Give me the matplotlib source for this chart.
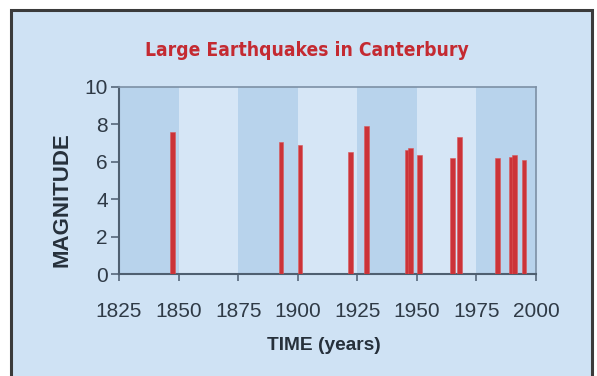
import matplotlib
matplotlib.use("Agg")
import matplotlib.pyplot as plt
from matplotlib.patches import Rectangle

# earthquake years and magnitudes
years = [1847.5, 1893, 1901, 1922, 1929, 1946, 1947.2, 1951, 1965, 1968,
         1984, 1989.5, 1991, 1995]
magnitudes = [7.6, 7.05, 6.9, 6.5, 7.9, 6.65, 6.75, 6.35, 6.2, 7.3,
              6.2, 6.25, 6.35, 6.1]

x_ticks = [1825, 1850, 1875, 1900, 1925, 1950, 1975, 2000]
y_ticks = [0, 2, 4, 6, 8, 10]
dark_bands = [(1825, 1850), (1875, 1900), (1925, 1950), (1975, 2000)]

W, H = 597, 376
fig = plt.figure(figsize=(W / 100, H / 100), dpi=100, facecolor="white")

# outer panel with dark border
frame = Rectangle((11 / W, -0.05), (592 - 11) / W, 1 - 10 / H + 0.05,
                  transform=fig.transFigure, facecolor="#cfe2f4",
                  edgecolor="#3b3b3b", linewidth=2.2, zorder=-5)
fig.patches.append(frame)

ax = fig.add_axes([119 / W, 1 - 274 / H, (536 - 119) / W, (274 - 87) / H])
ax.set_zorder(2)
ax.set_facecolor("#d6e6f6")
for a, b in dark_bands:
    ax.axvspan(a, b, color="#b8d3ec", lw=0, zorder=0)

ax.bar(years, magnitudes, width=2.0, color="#cc3338", edgecolor="#d9575a",
       linewidth=0.4, zorder=3)

ax.set_xlim(1825, 2000)
ax.set_ylim(0, 10)
ax.set_xticks(x_ticks)
ax.set_yticks(y_ticks)

font = ["Liberation Sans", "DejaVu Sans"]
ax.tick_params(axis="x", direction="out", length=5, width=1.2,
               color="#56677a", pad=15.5, labelsize=15, labelcolor="#2f3a46")
ax.tick_params(axis="y", direction="out", length=6, width=1.2,
               color="#56677a", pad=2, labelsize=15, labelcolor="#2f3a46")
for lbl in ax.get_xticklabels() + ax.get_yticklabels():
    lbl.set_family(font)

for side in ["left", "bottom"]:
    ax.spines[side].set_color("#4f5f70")
    ax.spines[side].set_linewidth(1.5)
for side in ["top", "right"]:
    ax.spines[side].set_color("#7d90a5")
    ax.spines[side].set_linewidth(1.2)

fig.text(307 / W, 1 - 50 / H, "Large Earthquakes in Canterbury",
         ha="center", va="center", fontsize=13.8, fontweight="bold",
         fontstretch="condensed", color="#c42a31", family="DejaVu Sans")
fig.text(62 / W, 1 - 200 / H, "MAGNITUDE", rotation=90, ha="center",
         va="center", fontsize=16, fontweight="bold", color="#26303b",
         family=font)
fig.text(324 / W, 1 - 345 / H, "TIME (years)", ha="center", va="center",
         fontsize=13.8, fontweight="bold", color="#26303b", family=font)

fig.savefig("out.png", dpi=100)
plt.close(fig)
